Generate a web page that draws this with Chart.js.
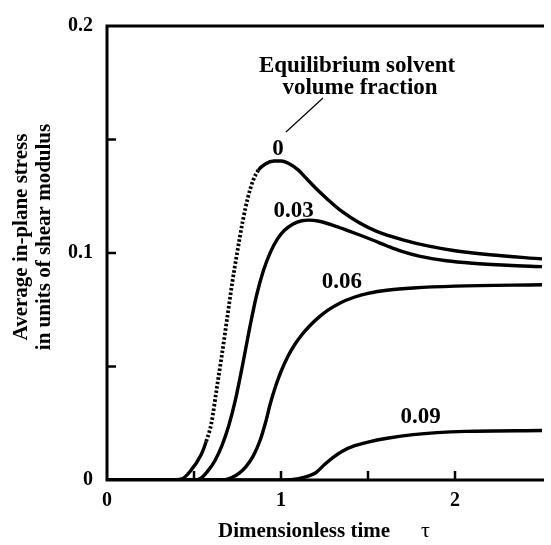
<!DOCTYPE html>
<html><head><meta charset="utf-8">
<script src="https://cdn.jsdelivr.net/npm/chart.js@4.4.1/dist/chart.umd.min.js"></script>
<style>html,body{margin:0;padding:0;background:#fff}#wrap{width:551px;height:545px}</style>
</head><body><div id="wrap"><canvas id="c" width="551" height="545"></canvas></div>
<script>
const tau0 = [0, 0.35, 0.43, 0.48, 0.54, 0.57, 0.60, 0.63, 0.66, 0.69, 0.72, 0.75, 0.78, 0.81, 0.84, 0.87, 0.91, 0.96, 1.00, 1.05, 1.10, 1.15, 1.20, 1.27, 1.35, 1.45, 1.55, 1.70, 1.85, 2.0, 2.2, 2.5];
const s0   = [0, 0, 0.0005, 0.004, 0.011, 0.017, 0.025, 0.040, 0.055, 0.071, 0.087, 0.101, 0.114, 0.1245, 0.132, 0.1365, 0.1392, 0.1405, 0.1405, 0.1392, 0.1365, 0.1325, 0.1285, 0.1235, 0.1183, 0.1133, 0.1095, 0.1058, 0.1030, 0.1010, 0.0992, 0.0974];
const tau3 = [0, 0.50, 0.54, 0.58, 0.62, 0.66, 0.70, 0.74, 0.78, 0.82, 0.86, 0.90, 0.94, 0.98, 1.02, 1.07, 1.12, 1.16, 1.22, 1.30, 1.38, 1.46, 1.53, 1.61, 1.69, 1.80, 1.95, 2.1, 2.3, 2.5];
const s3   = [0, 0, 0.0008, 0.004, 0.0085, 0.015, 0.024, 0.036, 0.051, 0.067, 0.0815, 0.0925, 0.1005, 0.1062, 0.110, 0.1128, 0.1142, 0.1145, 0.1140, 0.1122, 0.110, 0.1077, 0.1056, 0.1031, 0.1008, 0.0985, 0.0966, 0.0955, 0.0946, 0.094];
const tau6 = [0, 0.66, 0.72, 0.76, 0.80, 0.84, 0.88, 0.91, 0.94, 0.97, 1.00, 1.04, 1.08, 1.12, 1.16, 1.21, 1.27, 1.34, 1.42, 1.50, 1.62, 1.76, 2.0, 2.5];
const s6   = [0, 0, 0.0012, 0.003, 0.006, 0.0105, 0.0175, 0.025, 0.034, 0.0415, 0.0478, 0.0545, 0.0598, 0.0640, 0.0675, 0.0712, 0.0748, 0.0780, 0.0805, 0.0822, 0.0837, 0.0846, 0.0854, 0.086];
const tau9 = [0, 1.02, 1.10, 1.16, 1.20, 1.25, 1.30, 1.35, 1.42, 1.50, 1.61, 1.76, 2.06, 2.5];
const s9   = [0, 0, 0.0006, 0.0018, 0.0032, 0.0068, 0.010, 0.0126, 0.015, 0.0167, 0.0184, 0.020, 0.0214, 0.0218];
const seriesNames = ['0', '0.03', '0.06', '0.09'];
const xTickLabels = ['0', '1', '2'];
const yTickLabels = ['0', '0.1', '0.2'];
const curveLabelPos = [[0.983, 0.146], [1.073, 0.1186], [1.35, 0.0872], [1.803, 0.0278]];
const xTitle = 'Dimensionless time';
const xTitleSymbol = 'τ';
const yTitle = ['Average in-plane stress', 'in units of shear modulus'];
const noteLines = ['Equilibrium solvent', 'volume fraction'];

const FONT = '"Liberation Serif", "Times New Roman", serif';
function pts(xs, ys){ return xs.map((x,i)=>({x:x, y:ys[i]})); }
function inDotted(c){ return c.p0.parsed.x >= 0.55 && c.p1.parsed.x <= 0.88; }
function ds(xs, ys, steepDash){
  return {data: pts(xs, ys), showLine:true, borderColor:'#000', borderWidth:3.4, pointRadius:0,
    cubicInterpolationMode:'monotone', tension:0.4, fill:false,
    segment: steepDash ? {borderDash: c => inDotted(c) ? [2.5,2] : undefined,
                          borderWidth: c => inDotted(c) ? 3.8 : 3.4} : undefined};
}

const deco = {
  id:'deco',
  afterDraw(chart){
    const ctx = chart.ctx, xs = chart.scales.x, ys = chart.scales.y, ca = chart.chartArea;
    ctx.save();
    ctx.strokeStyle = '#000'; ctx.fillStyle = '#000';
    ctx.lineWidth = 3;
    ctx.beginPath();
    ctx.moveTo(ca.left, ca.top); ctx.lineTo(ca.right + 2, ca.top);
    ctx.moveTo(ca.left, ca.top - 1.5); ctx.lineTo(ca.left, ca.bottom + 1.5);
    ctx.moveTo(ca.left - 1.5, ca.bottom); ctx.lineTo(ca.right + 2, ca.bottom);
    ctx.stroke();
    ctx.lineWidth = 2.5;
    ctx.beginPath();
    xs.ticks.forEach(t => { if (t.value <= 0 || t.value >= 2.5) return; const p = xs.getPixelForValue(t.value); ctx.moveTo(p, ca.bottom); ctx.lineTo(p, ca.bottom - 9); });
    ys.ticks.forEach(t => { if (t.value <= 0 || t.value >= 0.2) return; const p = ys.getPixelForValue(t.value); ctx.moveTo(ca.left, p); ctx.lineTo(ca.left + 9, p); });
    ctx.stroke();
    ctx.font = 'bold 23px ' + FONT; ctx.textAlign = 'center'; ctx.textBaseline = 'middle';
    seriesNames.forEach((n,i) => ctx.fillText(n, xs.getPixelForValue(curveLabelPos[i][0]), ys.getPixelForValue(curveLabelPos[i][1])));
    ctx.font = 'bold 23px ' + FONT; ctx.textBaseline = 'alphabetic';
    ctx.fillText(noteLines[0], 357, 72);
    ctx.fillText(noteLines[1], 360, 94);
    ctx.lineWidth = 1.2;
    ctx.beginPath(); ctx.moveTo(323, 98); ctx.lineTo(286, 132); ctx.stroke();
    ctx.font = 'bold 21px ' + FONT; ctx.textAlign = 'left';
    ctx.fillText(xTitle, 218, 537);
    ctx.font = '22px ' + FONT;
    ctx.fillText(xTitleSymbol, 421, 537);
    ctx.font = 'bold 21px ' + FONT; ctx.textAlign = 'center'; ctx.textBaseline = 'middle';
    [[22, yTitle[0]], [45, yTitle[1]]].forEach(([x, t]) => { ctx.save(); ctx.translate(x, 237); ctx.rotate(-Math.PI/2); ctx.fillText(t, 0, 0); ctx.restore(); });
    ctx.restore();
  }
};

new Chart(document.getElementById('c'), {
  type:'scatter',
  data:{datasets:[ds(tau0, s0, true), ds(tau3, s3), ds(tau6, s6), ds(tau9, s9)]},
  options:{
    responsive:false, animation:false, devicePixelRatio:1,
    layout:{padding:{top:12, right:0, left:0, bottom:0}},
    plugins:{legend:{display:false}, tooltip:{enabled:false}},
    scales:{
      x:{type:'linear', min:0, max:2.5,
        afterBuildTicks: s => { s.ticks = [0,0.5,1,1.5,2,2.5].map(v=>({value:v})); },
        afterFit: s => { s.height = 65; },
        grid:{display:false, drawTicks:false}, border:{display:false},
        ticks:{padding:9, maxRotation:0, autoSkip:false, color:'#000', font:{family:FONT, size:20, weight:'bold'},
          callback: v => { const i = xTickLabels.indexOf(String(v)); return i >= 0 ? xTickLabels[i] : ''; }}},
      y:{type:'linear', min:0, max:0.2,
        afterBuildTicks: s => { s.ticks = [0,0.05,0.1,0.15,0.2].map(v=>({value:v})); },
        afterFit: s => { s.width = 107; },
        grid:{display:false, drawTicks:false}, border:{display:false},
        ticks:{padding:14, autoSkip:false, color:'#000', font:{family:FONT, size:20, weight:'bold'},
          callback: v => { const s = String(Math.round(v*1000)/1000); return yTickLabels.includes(s) ? s : ''; }}}
    }
  },
  plugins:[deco]
});
</script></body></html>
